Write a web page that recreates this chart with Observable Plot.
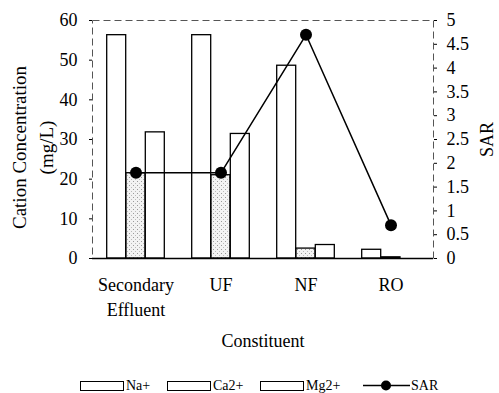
<!DOCTYPE html>
<html>
<head>
<meta charset="utf-8">
<script src="https://cdn.jsdelivr.net/npm/d3@7"></script>
<script src="https://cdn.jsdelivr.net/npm/@observablehq/plot@0.6"></script>
<style>
  body { margin: 0; background: #fff; font-family: "Liberation Serif", "Times New Roman", serif; }
  #legend { position: relative; height: 15px; width: 499px; font-size: 14px; }
  .item { position: absolute; top: 0; height: 15px; display: flex; align-items: center; }
  .box { width: 42px; height: 8px; border: 1px solid #000; background: #fff; margin-right: 2px; }
</style>
</head>
<body>
<div id="chart"></div>
<div id="legend"></div>
<script>
const categories = ["Secondary Effluent", "UF", "NF", "RO"];
const xTickLabels = ["Secondary\nEffluent", "UF", "NF", "RO"];
const naValues = [56.3, 56.3, 48.6, 2.2];
const caValues = [21.5, 21.0, 2.5, 0.3];
const mgValues = [31.8, 31.4, 3.4, 0];
const sarValues = [1.8, 1.8, 4.7, 0.7];
const leftTicks = [0, 10, 20, 30, 40, 50, 60];
const rightTicks = [0, 0.5, 1, 1.5, 2, 2.5, 3, 3.5, 4, 4.5, 5];
const seriesNames = ["Na+", "Ca2+", "Mg2+", "SAR"];
const yLabel = "Cation Concentration\n(mg/L)";
const y2Label = "SAR";
const xLabel = "Constituent";

const sarFactor = 60 / 5; // right axis 0–5 mapped onto left axis 0–60
const rows = categories.map((c, i) => ({
  category: c, na: naValues[i], ca: caValues[i], mg: mgValues[i], sar: sarValues[i]
}));
const labelOf = new Map(categories.map((c, i) => [c, xTickLabels[i]]));
const font = "'Liberation Serif', 'Times New Roman', serif";

const plot = Plot.plot({
  width: 499, height: 378,
  marginLeft: 92, marginRight: 66, marginTop: 20, marginBottom: 120,
  style: { fontFamily: font, fontSize: "18px", color: "#000", background: "#fff" },
  x: { type: "band", domain: categories, padding: 0, axis: null },
  y: { domain: [0, 60], axis: null },
  marks: [
    Plot.barY(rows, { x: "category", y: "na", fill: "white", stroke: "black", strokeWidth: 1.3, insetLeft: 13.7, insetRight: 52.3 }),
    Plot.barY(rows, { x: "category", y: "ca", fill: "url(#stipple)", stroke: "black", strokeWidth: 1.3, insetLeft: 33, insetRight: 33 }),
    Plot.barY(rows, { x: "category", y: "mg", fill: "white", stroke: "black", strokeWidth: 1.3, insetLeft: 52.3, insetRight: 13.7 }),
    Plot.frame({ stroke: "#555", strokeDasharray: "7,4", strokeWidth: 1 }),
    Plot.ruleY([0], { stroke: "black", strokeWidth: 1.3 }),
    Plot.axisY({ ticks: leftTicks, anchor: "left", label: null, tickSize: 3, tickPadding: 12, fontSize: 18 }),
    Plot.axisY({ ticks: rightTicks.map(v => v * sarFactor), anchor: "right", label: null, tickSize: 3, tickPadding: 10, fontSize: 18,
      tickFormat: d => String(+(d / sarFactor).toFixed(2)) }),
    Plot.axisX({ tickSize: 0, tickPadding: 15, fontSize: 18, lineHeight: 1.38, label: null, tickFormat: d => labelOf.get(d) }),
    Plot.lineY(rows, { x: "category", y: d => d.sar * sarFactor, stroke: "black", strokeWidth: 1.5 }),
    Plot.dot(rows, { x: "category", y: d => d.sar * sarFactor, r: 6, fill: "black" }),
    Plot.text([yLabel], { frameAnchor: "left", textAnchor: "middle", lineAnchor: "middle", rotate: -90, dx: -62, dy: 8, lineHeight: 1.45, fontSize: 19 }),
    Plot.text([y2Label], { frameAnchor: "right", textAnchor: "middle", lineAnchor: "middle", rotate: -90, dx: 54, dy: 0, fontSize: 18 }),
    Plot.text([xLabel], { frameAnchor: "bottom", textAnchor: "middle", dy: 88, lineAnchor: "bottom", fontSize: 18 })
  ]
});

d3.select(plot).insert("defs", ":first-child").html(
  `<pattern id="stipple" width="4" height="4" patternUnits="userSpaceOnUse">
     <rect width="4" height="4" fill="#f3f3f3"/>
     <rect x="1" y="1" width="1" height="1" fill="#9a9a9a"/>
     <rect x="3" y="3" width="1" height="1" fill="#bbbbbb"/>
   </pattern>`);
document.getElementById("chart").appendChild(plot);

// legend
const legend = d3.select("#legend");
const lefts = [80, 167, 260, 363];
seriesNames.forEach((name, i) => {
  const it = legend.append("div").attr("class", "item").style("left", lefts[i] + "px");
  if (i < 3) {
    it.append("div").attr("class", "box");
  } else {
    it.append("svg").attr("width", 48).attr("height", 15).html(
      `<line x1="0" y1="7.5" x2="47" y2="7.5" stroke="black" stroke-width="1.5"/>
       <circle cx="23" cy="7.5" r="5" fill="black"/>`);
  }
  it.append("span").text(name);
});
</script>
</body>
</html>
